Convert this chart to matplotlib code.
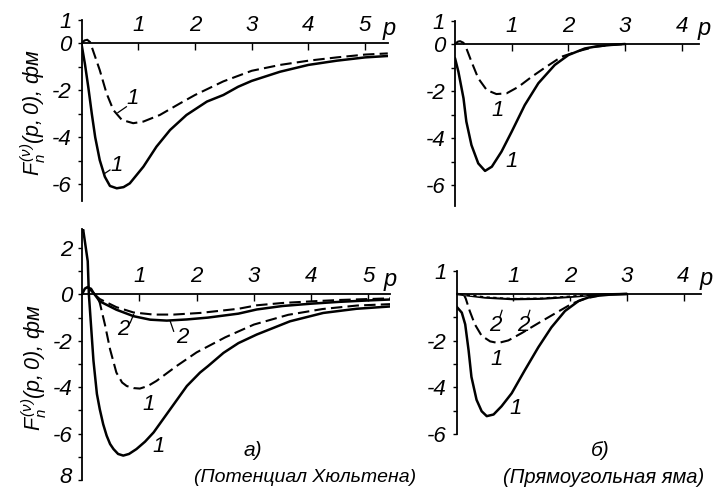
import matplotlib
matplotlib.use("Agg")
import matplotlib.pyplot as plt
from matplotlib.transforms import ScaledTranslation

# ---------------- data ----------------
# Top-left panel (Hulthen potential), curves "1"
tl_solid_p = [0, 0.06, 0.12, 0.18, 0.24, 0.32, 0.41, 0.5, 0.62, 0.74, 0.85, 1.09, 1.32,
              1.56, 1.85, 2.21, 2.5, 2.76, 3.0, 3.5, 4.0, 4.5, 5.0, 5.4]
tl_solid_f = [-0.05, -0.9, -1.9, -3.0, -4.0, -4.97, -5.68, -6.07, -6.17, -6.12, -5.96, -5.25, -4.4,
              -3.69, -3.05, -2.48, -2.2, -1.85, -1.6, -1.21, -0.92, -0.74, -0.6, -0.54]
tl_dash_p = [0, 0.05, 0.1, 0.15, 0.2, 0.32, 0.44, 0.56, 0.71, 0.91, 1.09, 1.38, 1.74, 2.0,
             2.5, 3.0, 3.5, 4.0, 4.5, 5.0, 5.4]
tl_dash_f = [0, 0.12, 0.15, 0.05, -0.3, -1.14, -2.13, -2.84, -3.26, -3.4, -3.33, -3.05, -2.55, -2.2,
             -1.62, -1.17, -0.92, -0.74, -0.6, -0.48, -0.43]

# Top-right panel (square well), curves "1"
tr_solid_p = [0, 0.06, 0.15, 0.2, 0.29, 0.41, 0.53, 0.65, 0.82, 1.0, 1.23, 1.47, 1.76, 2.0,
              2.29, 2.5, 2.75, 3.0]
tr_solid_f = [-0.6, -1.18, -2.31, -3.3, -4.3, -5.08, -5.4, -5.22, -4.58, -3.73, -2.6, -1.67, -0.89,
              -0.47, -0.19, -0.1, -0.04, 0]
tr_dash_p = [0, 0.05, 0.09, 0.15, 0.2, 0.29, 0.41, 0.56, 0.73, 0.91, 1.12, 1.35, 1.59, 1.88,
             2.18, 2.47, 2.75, 3.0]
tr_dash_f = [0, 0.1, 0.12, 0.05, -0.18, -0.75, -1.46, -1.96, -2.13, -2.1, -1.82, -1.4, -1.0,
             -0.54, -0.3, -0.12, -0.04, 0]

# Bottom-left panel (Hulthen potential), curves "1" and "2"
bl_s1_p = [0, 0.02, 0.05, 0.1, 0.12, 0.16, 0.2, 0.26, 0.31, 0.37, 0.43, 0.49, 0.55, 0.63, 0.72,
           0.82, 0.95, 1.1, 1.25, 1.54, 1.83, 2.06, 2.2, 2.47, 2.73, 3.05, 3.63, 4.21, 4.79, 5.38]
bl_s1_f = [2.7, 2.8, 2.29, 1.43, 0.0, -1.43, -2.86, -4.29, -4.95, -5.6, -6.09, -6.45, -6.67, -6.88,
           -6.95, -6.88, -6.67, -6.35, -5.95, -4.95, -3.95, -3.37, -3.09, -2.52, -2.1, -1.73, -1.16,
           -0.8, -0.62, -0.52]
bl_d1_p = [0.1, 0.16, 0.22, 0.27, 0.31, 0.4, 0.49, 0.6, 0.7, 0.78, 0.9, 1.01, 1.15, 1.3, 1.65,
           2.0, 2.5, 3.0, 3.6, 4.2, 4.8, 5.38]
bl_d1_f = [0.3, 0.25, 0.0, -0.1, -0.36, -1.3, -2.37, -3.37, -3.8, -3.95, -4.04, -4.06, -3.95,
           -3.73, -3.09, -2.5, -1.85, -1.3, -0.88, -0.63, -0.48, -0.42]
bl_s2_p = [0, 0.05, 0.1, 0.15, 0.22, 0.31, 0.6, 0.9, 1.19, 1.48, 1.83, 2.2, 2.73, 3.05, 3.5,
           4.0, 4.5, 5.0, 5.38]
bl_s2_f = [0, 0.25, 0.32, 0.2, 0.0, -0.3, -0.66, -0.94, -1.09, -1.13, -1.08, -1.0, -0.83, -0.65,
           -0.5, -0.4, -0.32, -0.26, -0.22]
bl_d2_p = [0.22, 0.31, 0.6, 0.9, 1.25, 1.6, 2.06, 2.73, 3.05, 3.5, 4.0, 4.5, 5.0, 5.38]
bl_d2_f = [0, -0.2, -0.55, -0.78, -0.87, -0.87, -0.8, -0.62, -0.47, -0.37, -0.3, -0.24, -0.2, -0.17]

# Bottom-right panel (square well), curves "1" and "2"
br_s1_p = [0, 0.09, 0.15, 0.21, 0.26, 0.35, 0.44, 0.53, 0.65, 0.79, 0.97, 1.2, 1.44, 1.67, 1.91,
           2.15, 2.38, 2.7, 3.0]
br_s1_f = [-0.55, -0.8, -1.3, -2.42, -3.55, -4.53, -5.02, -5.23, -5.16, -4.81, -4.25, -3.27, -2.28,
           -1.43, -0.73, -0.3, -0.1, -0.03, 0]
br_d1_p = [0.12, 0.16, 0.23, 0.32, 0.44, 0.59, 0.73, 0.91, 1.15, 1.44, 1.73, 2.03, 2.26, 2.5]
br_d1_f = [0, -0.2, -0.73, -1.3, -1.79, -2.03, -2.1, -1.99, -1.67, -1.25, -0.84, -0.42, -0.2, -0.08]
br_s2_p = [0, 0.2, 0.5, 1.0, 1.5, 2.0, 2.3, 2.6, 3.0]
br_s2_f = [0, -0.06, -0.15, -0.22, -0.2, -0.12, -0.06, -0.02, 0]
br_d2_p = [0, 0.2, 0.5, 1.0, 1.5, 2.0, 2.3]
br_d2_f = [0, -0.04, -0.1, -0.15, -0.13, -0.07, -0.03]

# tick labels
tl_xticks = [1, 2, 3, 4, 5]
tl_yticks = [1, 0, -2, -4, -6]
tl_ylabels = ["1", "0", "-2", "-4", "-6"]
tr_xticks = [1, 2, 3, 4]
tr_yticks = [1, 0, -2, -4, -6]
tr_ylabels = ["1", "0", "-2", "-4", "-6"]
bl_xticks = [1, 2, 3, 4, 5]
bl_yticks = [2, 0, -2, -4, -6, -8]
bl_ylabels = ["2", "0", "-2", "-4", "-6", "8"]
br_xticks = [1, 2, 3, 4]
br_yticks = [1, -2, -4, -6]
br_ylabels = ["1", "-2", "-4", "-6"]

ylabel_text = r"$F_n^{(\nu)}(p,0)$, фм"
caption_a = "а)"
caption_a2 = "(Потенциал Хюльтена)"
caption_b = "б)"
caption_b2 = "(Прямоугольная яма)"

# ---------------- styling ----------------
plt.rcParams["font.family"] = ["Liberation Sans", "DejaVu Sans"]
plt.rcParams["font.style"] = "italic"
plt.rcParams["mathtext.fontset"] = "custom"
plt.rcParams["mathtext.rm"] = "Liberation Sans:italic"
plt.rcParams["mathtext.it"] = "Liberation Sans:italic"

W, H = 714, 490
fig = plt.figure(figsize=(W / 100, H / 100), dpi=100)

FS = 16
SOLID = dict(color="black", lw=1.8, solid_capstyle="round")
DASH = dict(color="black", lw=1.5, ls=(0, (5.5, 2.5)))


def make_ax(x0, ppu, xmax, y0, ypu, ytop, ybot):
    left = x0 / W
    width = xmax * ppu / W
    top_px = y0 - ytop * ypu
    bot_px = y0 - ybot * ypu
    ax = fig.add_axes([left, 1 - bot_px / H, width, (bot_px - top_px) / H])
    ax.set_xlim(0, xmax)
    ax.set_ylim(ybot, ytop)
    ax.patch.set_alpha(0)
    for s in ("right", "bottom"):
        ax.spines[s].set_visible(False)
    ax.spines["top"].set_position(("data", 0))
    ax.spines["top"].set_linewidth(1.3)
    ax.spines["left"].set_linewidth(1.3)
    ax.xaxis.set_ticks_position("top")
    ax.tick_params(axis="x", direction="in", length=5, width=1.0, pad=5,
                   labelsize=FS)
    ax.tick_params(axis="y", direction="out", length=3, width=1.0, pad=4,
                   labelsize=FS)
    return ax


def finish(ax, xt, yt, yl, pxpos):
    ax.set_xticks(xt)
    ax.set_xticklabels([str(v) for v in xt], fontstyle="italic")
    ax.set_yticks(yt)
    ax.set_yticklabels(yl, fontstyle="italic")
    lo, hi = ax.get_ylim()
    ax.set_yticks([v for v in range(int(lo), int(hi) + 1) if v not in yt and v != 0],
                  minor=True)
    ax.tick_params(axis="y", which="minor", direction="out", length=3, width=1.0)
    ax.text(pxpos, 0.15, "p", fontsize=FS + 1, fontstyle="italic",
            ha="center", va="bottom")


def label(ax, x, y, s, lead=None):
    ax.text(x, y, s, fontsize=FS, fontstyle="italic", ha="center", va="center")
    if lead is not None:
        ax.plot([lead[0], lead[2]], [lead[1], lead[3]], color="black", lw=0.9)


# Top-left
ax1 = make_ax(81.6, 56.7, 5.4, 43.3, 23.5, 1.0, -6.7)
ax1.plot(tl_solid_p, tl_solid_f, **SOLID)
ax1.plot(tl_dash_p, tl_dash_f, **DASH)
finish(ax1, tl_xticks, tl_yticks, tl_ylabels, 5.42)
label(ax1, 0.9, -2.34, "1", (0.79, -2.7, 0.64, -2.95))
label(ax1, 0.61, -5.18, "1", (0.5, -5.39, 0.4, -5.55))

# Top-right
ax2 = make_ax(455, 56.7, 4.3, 44, 23.5, 1.0, -6.9)
ax2.plot(tr_solid_p, tr_solid_f, **SOLID)
ax2.plot(tr_dash_p, tr_dash_f, **DASH)
finish(ax2, tr_xticks, tr_yticks, tr_ylabels, 4.4)
label(ax2, 0.76, -2.85, "1")
label(ax2, 0.99, -5.0, "1")

# Bottom-left
ax3 = make_ax(82, 57.3, 5.37, 294.7, 23.3, 2.8, -7.95)
ax3.plot(bl_s1_p, bl_s1_f, **SOLID)
ax3.plot(bl_d1_p, bl_d1_f, **DASH)
ax3.plot(bl_s2_p, bl_s2_f, **SOLID)
ax3.plot(bl_d2_p, bl_d2_f, **DASH)
finish(ax3, bl_xticks, bl_yticks, bl_ylabels, 5.37)
# keep the lowest tick label inside the figure
last = ax3.get_yticklabels()[-1]
last.set_transform(last.get_transform() + ScaledTranslation(0, 5 / 100, fig.dpi_scale_trans))
label(ax3, 0.72, -1.5, "2", (0.84, -1.23, 0.9, -0.87))
label(ax3, 1.75, -1.85, "2", (1.6, -1.59, 1.54, -1.16))
label(ax3, 1.16, -4.75, "1")
label(ax3, 1.34, -6.55, "1")

# Bottom-right
ax4 = make_ax(456.7, 56.7, 4.3, 294.3, 23.7, 1.0, -5.9)
ax4.plot(br_s1_p, br_s1_f, **SOLID)
ax4.plot(br_d1_p, br_d1_f, **DASH)
ax4.plot(br_s2_p, br_s2_f, **SOLID)
ax4.plot(br_d2_p, br_d2_f, color="white", lw=0.8, ls=(0, (3, 3)))
finish(ax4, br_xticks, br_yticks, br_ylabels, 4.4)
label(ax4, 0.68, -1.35, "2", (0.76, -1.0, 0.8, -0.7))
label(ax4, 1.17, -1.35, "2", (1.25, -1.0, 1.29, -0.7))
label(ax4, 0.71, -2.8, "1")
label(ax4, 1.04, -4.9, "1")

# y-axis labels
fig.text(33 / W, 1 - 113 / H, ylabel_text, rotation=90, ha="center", va="center",
         fontsize=FS - 0.5, fontstyle="italic")
fig.text(34 / W, 1 - 368 / H, ylabel_text, rotation=90, ha="center", va="center",
         fontsize=FS - 0.5, fontstyle="italic")

# captions
fig.text(253 / W, 1 - 450 / H, caption_a, ha="center", va="center", fontsize=FS - 1,
         fontstyle="italic")
fig.text(305 / W, 1 - 477 / H, caption_a2, ha="center", va="center", fontsize=FS - 2,
         fontstyle="italic")
fig.text(600 / W, 1 - 450 / H, caption_b, ha="center", va="center", fontsize=FS - 1,
         fontstyle="italic")
fig.text(604 / W, 1 - 477 / H, caption_b2, ha="center", va="center", fontsize=FS - 1.5,
         fontstyle="italic")

fig.savefig("out.png", dpi=100, facecolor="white")
